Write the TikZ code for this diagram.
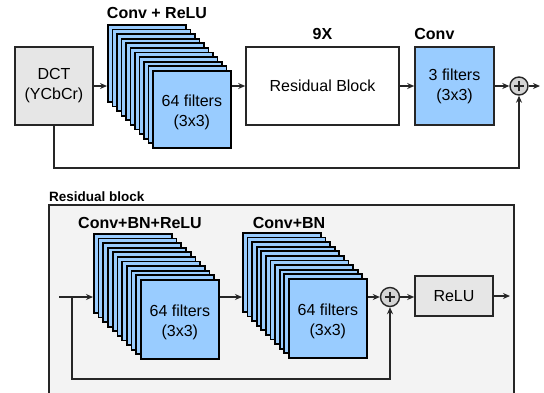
\documentclass[tikz,border=0pt]{standalone}
\usepackage{fontspec}
\setmainfont{Liberation Sans}
\usetikzlibrary{arrows.meta,positioning}
\definecolor{filterblue}{RGB}{153,204,255}
\definecolor{dctgray}{RGB}{230,230,230}
\definecolor{sumgray}{RGB}{212,212,212}
\definecolor{panelgray}{RGB}{243,243,243}
\tikzset{
  box/.style={draw=black!85, line width=1.6pt, align=center, inner sep=0pt,
    font=\fontsize{16}{20}\selectfont},
  card/.style={box, draw=black, fill=filterblue, line width=1.7pt, minimum width=78pt},
  cardtext/.style={box, draw=none, yshift=-3pt},
  sum/.style={draw=black!85, line width=1.4pt, fill=sumgray, circle, minimum size=18pt, inner sep=0pt,
    path picture={\draw[line width=1.5pt] ([xshift=-5pt]path picture bounding box.center) -- ([xshift=5pt]path picture bounding box.center)
      ([yshift=-5pt]path picture bounding box.center) -- ([yshift=5pt]path picture bounding box.center);}},
  head/.style={font=\bfseries\fontsize{16}{19}\selectfont, inner sep=0pt},
  flow/.style={line width=1.4pt, draw=black!85, -{Stealth[length=7pt,width=6pt]}}
}
\begin{document}
\begin{tikzpicture}[x=1pt,y=-1pt]
\useasboundingbox (0,0) rectangle (544,392);
\clip (0,0) rectangle (544,392);

% top network
\node[box, fill=dctgray, minimum width=78pt, minimum height=78pt] (dct) at (54,86) {DCT\\(YCbCr)};
\foreach \i in {0,...,10}
  \node[card, minimum height=77pt, anchor=north west] (conv\i) at (107+4.5*\i,24+4.6*\i) {};
\node[cardtext] at (conv10) {64 filters\\(3x3)};
\node[head] at (157,13) {Conv + ReLU};
\node[box, fill=white, minimum width=153pt, minimum height=78pt] (resblock) at (322.5,86) {Residual Block};
\node[head, anchor=south, yshift=6pt] at (resblock.north) {9X};
\node[box, fill=filterblue, minimum width=79pt, minimum height=78pt] (last) at (454.5,86) {3 filters\\(3x3)};
\node[head, anchor=south west, yshift=6pt] at (last.north west) {Conv};
\node[sum] (add) at (519,86) {};
\coordinate (out) at (540,86);

\draw[flow] (dct.east) -- (dct.east -| conv0.west);
\draw[flow] (resblock.west -| conv10.east) -- (resblock.west);
\draw[flow] (resblock) -- (last);
\draw[flow] (last) -- (add);
\draw[flow] (add) -- (out);
\draw[flow] (dct.south) |- (53,168) -| (add.south);

% residual block detail
\draw[line width=1.6pt, draw=black!85, fill=panelgray] (49,205) rectangle (514,400);
\node[head, font=\bfseries\fontsize{13.5}{16}\selectfont, anchor=south west] at (49,202) {Residual block};
\foreach \i in {0,...,10}
  \node[card, minimum height=79pt, anchor=north west] (bnA\i) at (93+4.7*\i,233+4.6*\i) {};
\node[cardtext] at (bnA10) {64 filters\\(3x3)};
\node[head] at (140,223) {Conv+BN+ReLU};
\foreach \i in {0,...,10}
  \node[card, minimum height=79pt, anchor=north west] (bnB\i) at (242+4.6*\i,232+4.6*\i) {};
\node[cardtext] at (bnB10) {64 filters\\(3x3)};
\node[head] at (289,223) {Conv+BN};
\node[sum, minimum size=19pt] (add2) at (390,297) {};
\node[box, fill=dctgray, minimum width=78pt, minimum height=40pt] (relu) at (454,296) {ReLU};
\coordinate (in) at (59,297);
\coordinate (split) at (72,297);
\coordinate (out2) at (510,296);

\draw[flow] (in) -- (in -| bnA0.west);
\draw[flow] (bnA10.east |- in) -- (in -| bnB0.west);
\draw[flow] (bnB10.east |- add2) -- (add2);
\draw[flow] (add2) -- (add2 -| relu.west);
\draw[flow] (relu.east |- out2) -- (out2);
\draw[flow] (split) |- (100,379) -| (add2.south);
\end{tikzpicture}
\end{document}
